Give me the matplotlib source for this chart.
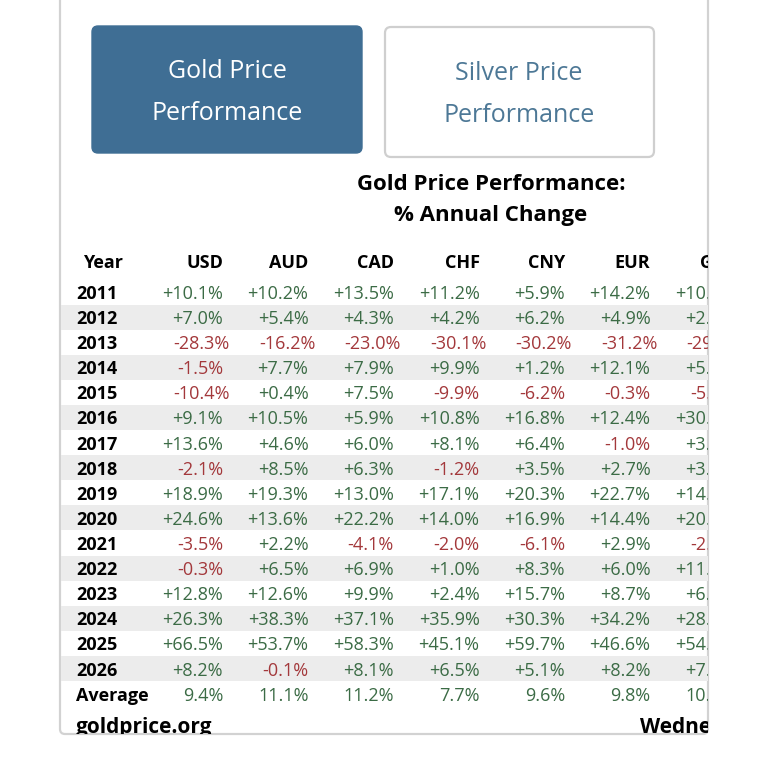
import matplotlib
matplotlib.use("Agg")
import matplotlib.pyplot as plt
from matplotlib.patches import FancyBboxPatch, Rectangle

plt.rcParams['font.family'] = ['Open Sans', 'DejaVu Sans']

# table data (% annual change of gold price)
years = [2011, 2012, 2013, 2014, 2015, 2016, 2017, 2018,
         2019, 2020, 2021, 2022, 2023, 2024, 2025, 2026]
currencies = ["USD", "AUD", "CAD", "CHF", "CNY", "EUR", "GBP"]
usd = [10.1, 7.0, -28.3, -1.5, -10.4, 9.1, 13.6, -2.1, 18.9, 24.6, -3.5, -0.3, 12.8, 26.3, 66.5, 8.2]
aud = [10.2, 5.4, -16.2, 7.7, 0.4, 10.5, 4.6, 8.5, 19.3, 13.6, 2.2, 6.5, 12.6, 38.3, 53.7, -0.1]
cad = [13.5, 4.3, -23.0, 7.9, 7.5, 5.9, 6.0, 6.3, 13.0, 22.2, -4.1, 6.9, 9.9, 37.1, 58.3, 8.1]
chf = [11.2, 4.2, -30.1, 9.9, -9.9, 10.8, 8.1, -1.2, 17.1, 14.0, -2.0, 1.0, 2.4, 35.9, 45.1, 6.5]
cny = [5.9, 6.2, -30.2, 1.2, -6.2, 16.8, 6.4, 3.5, 20.3, 16.9, -6.1, 8.3, 15.7, 30.3, 59.7, 5.1]
eur = [14.2, 4.9, -31.2, 12.1, -0.3, 12.4, -1.0, 2.7, 22.7, 14.4, 2.9, 6.0, 8.7, 34.2, 46.6, 8.2]
gbp = [10.5, 2.5, -29.0, 5.7, -5.3, 30.1, 3.4, 3.9, 14.2, 20.8, -2.6, 11.3, 6.0, 28.4, 54.1, 7.3]
averages = [9.4, 11.1, 11.2, 7.7, 9.6, 9.8, 10.4]

GREEN = "#3b6b45"
RED = "#a3383b"
BLUE = "#3f6e94"

fig = plt.figure(figsize=(7.68, 7.68), dpi=100)
fig.patch.set_facecolor("white")

# background axes in pixel coords (for the panel frame)
bg = fig.add_axes([0, 0, 1, 1])
bg.set_xlim(0, 768)
bg.set_ylim(768, 0)
bg.axis("off")
bg.add_patch(FancyBboxPatch((60, -30), 648, 764, boxstyle="round,pad=0,rounding_size=5",
                            fc="white", ec="#d2d2d2", lw=1.6))

# panel axes, clips its content at the frame
x0, x1, y1 = 61, 708, 734
ax = fig.add_axes([x0 / 768, (768 - y1) / 768, (x1 - x0) / 768, y1 / 768])
ax.set_xlim(x0, x1)
ax.set_ylim(y1, 0)
ax.axis("off")
ax.patch.set_alpha(0)

dy = 2  # text sits a little lower than its box centre

# buttons
ax.add_patch(FancyBboxPatch((92, 26), 270, 127, boxstyle="round,pad=0,rounding_size=6",
                            fc=BLUE, ec=BLUE, lw=1))
ax.add_patch(FancyBboxPatch((385, 27), 269, 130, boxstyle="round,pad=0,rounding_size=6",
                            fc="white", ec="#cfcfcf", lw=1.6))
ax.text(227, 69 + dy, "Gold Price", color="white", fontsize=18, ha="center", va="center")
ax.text(227, 111 + dy, "Performance", color="white", fontsize=18, ha="center", va="center")
ax.text(519, 71 + dy, "Silver Price", color="#4d7896", fontsize=18, ha="center", va="center")
ax.text(519, 113 + dy, "Performance", color="#4d7896", fontsize=18, ha="center", va="center")

# title
ax.text(491, 182 + dy, "Gold Price Performance:", fontsize=16, fontweight="bold",
        ha="center", va="center")
ax.text(491, 213 + dy, "% Annual Change", fontsize=16, fontweight="bold",
        ha="center", va="center")

# table
columns = [usd, aud, cad, chf, cny, eur, gbp]
first_right = 223
col_step = 85.5
header_y = 261
row0 = 292
row_step = 25.1
fs = 13

ax.text(83, header_y + dy, "Year", fontsize=fs, fontweight="bold", ha="left", va="center")
for j, cur in enumerate(currencies):
    ax.text(first_right + j * col_step, header_y + dy, cur, fontsize=fs, fontweight="bold",
            ha="right", va="center", clip_on=True)

for i, yr in enumerate(years):
    y = row0 + i * row_step
    if i % 2 == 1:
        ax.add_patch(Rectangle((x0, y - row_step / 2), x1 - x0, row_step,
                               fc="#ececec", ec="none", zorder=0))
    ax.text(76, y + dy, str(yr), fontsize=fs, fontweight="bold", ha="left", va="center")
    for j, col in enumerate(columns):
        v = col[i]
        shift = 7 if v <= -10 else 0
        ax.text(first_right + j * col_step + shift, y + dy, f"{v:+.1f}%",
                color=GREEN if v >= 0 else RED, fontsize=fs,
                ha="right", va="center", clip_on=True)

y_avg = row0 + len(years) * row_step
ax.text(76, y_avg + dy, "Average", fontsize=fs, fontweight="bold", ha="left", va="center")
for j, v in enumerate(averages):
    ax.text(first_right + j * col_step, y_avg + dy, f"{v:.1f}%", color=GREEN, fontsize=fs,
            ha="right", va="center", clip_on=True)

# footer, cut off by the frame
ax.text(76, 728, "goldprice.org", fontsize=15, fontweight="bold", ha="left", va="center",
        clip_on=True)
ax.text(640, 728, "Wednesday", fontsize=15, fontweight="bold", ha="left", va="center",
        clip_on=True)

fig.savefig("out.png", dpi=100)
